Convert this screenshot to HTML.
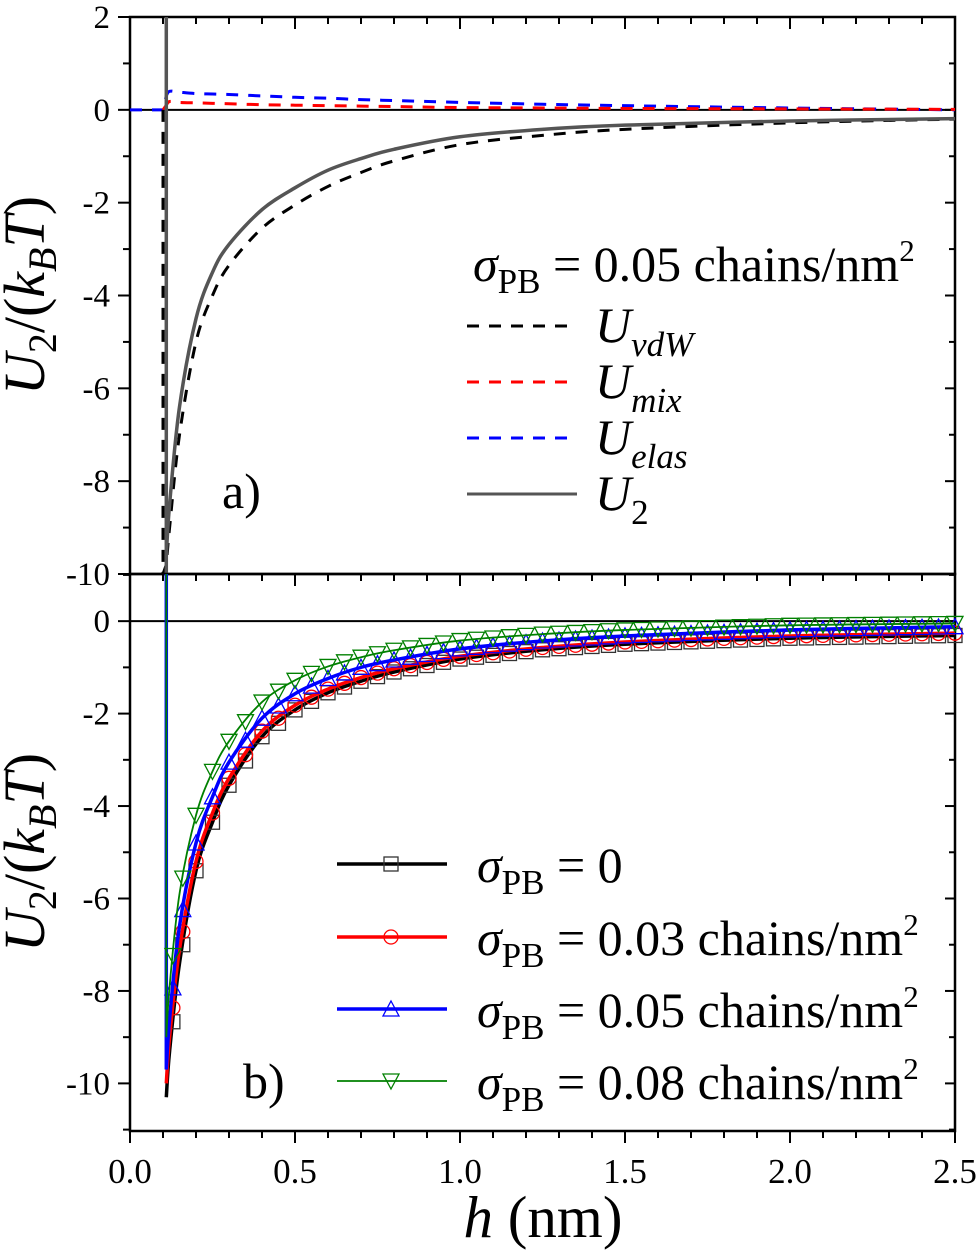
<!DOCTYPE html>
<html><head><meta charset="utf-8"><style>
html,body{margin:0;padding:0;background:#fff}
svg{display:block}
svg text, svg tspan{font-family:"Liberation Serif","Times New Roman",serif}
</style></head><body>
<svg id="chart" width="980" height="1254" viewBox="0 0 980 1254" xmlns="http://www.w3.org/2000/svg" font-family="Liberation Serif, serif">
<g id="g"></g>
</svg>
<script>
// Panel a data
const hTop = [0.11,0.12,0.15,0.2,0.25,0.3,0.4,0.5,0.6,0.7,0.8,1.0,1.25,1.5,2.0,2.5];
const uVdw = [-9.8,-9.0,-7.0,-5.0,-4.0,-3.35,-2.55,-2.05,-1.65,-1.35,-1.1,-0.75,-0.55,-0.42,-0.28,-0.2];
const uMix = [0.1,0.18,0.16,0.15,0.14,0.13,0.11,0.1,0.09,0.08,0.07,0.05,0.04,0.03,0.02,0.01];
const uElas = [0.3,0.4,0.38,0.35,0.34,0.33,0.3,0.27,0.25,0.22,0.2,0.16,0.12,0.09,0.04,0.0];
const uTotal = [-9.6,-8.5,-6.4,-4.5,-3.5,-2.9,-2.15,-1.68,-1.3,-1.05,-0.85,-0.58,-0.42,-0.33,-0.24,-0.19];
// Panel b data
const hBot = [0.11,0.12,0.15,0.2,0.25,0.3,0.4,0.5,0.6,0.7,0.8,1.0,1.25,1.5,2.0,2.5];
const sig0 = [-10.3,-9.3,-7.4,-5.4,-4.35,-3.55,-2.5,-1.92,-1.55,-1.3,-1.1,-0.82,-0.62,-0.5,-0.37,-0.31];
const sig3 = [-10.0,-9.0,-7.1,-5.2,-4.15,-3.4,-2.38,-1.82,-1.47,-1.22,-1.03,-0.76,-0.57,-0.45,-0.32,-0.26];
const sig5 = [-9.7,-8.6,-6.6,-4.8,-3.8,-3.05,-2.1,-1.57,-1.24,-1.0,-0.84,-0.6,-0.43,-0.32,-0.19,-0.12];
const sig8 = [-9.0,-7.9,-5.9,-4.2,-3.25,-2.6,-1.75,-1.28,-0.98,-0.78,-0.63,-0.42,-0.28,-0.19,-0.09,-0.05];
const xTicks = [0.0,0.5,1.0,1.5,2.0,2.5];
const xTickLabels = ["0.0","0.5","1.0","1.5","2.0","2.5"];
const yTicksTop = [2,0,-2,-4,-6,-8,-10];
const yTicksBot = [0,-2,-4,-6,-8,-10];

const NS="http://www.w3.org/2000/svg";
const G=document.getElementById('g');
const FF='Liberation Serif, serif';
function el(t,a,p){const e=document.createElementNS(NS,t);for(const k in a)e.setAttribute(k,a[k]);if(t==='text')e.setAttribute('font-family',FF);(p||G).appendChild(e);return e;}
const X0=130,X1=955;
const sx=h=>X0+(h/2.5)*(X1-X0);
const TOP={y0:17,y1:574,ymax:2,ymin:-10};
const BOT={y0:574,y1:1131,ymax:1.02,ymin:-11.03};
const sy=(P,v)=>P.y0+(P.ymax-v)/(P.ymax-P.ymin)*(P.y1-P.y0);

function curvePath(P,hs,vs){
  const pts=hs.map((h,i)=>[sx(h),sy(P,vs[i])]);
  let d=`M${pts[0][0]},${pts[0][1]}`;
  for(let i=0;i<pts.length-1;i++){
    const p0=pts[i-1]||pts[i],p1=pts[i],p2=pts[i+1],p3=pts[i+2]||p2;
    const c1=[p1[0]+(p2[0]-p0[0])/6,p1[1]+(p2[1]-p0[1])/6];
    const c2=[p2[0]-(p3[0]-p1[0])/6,p2[1]-(p3[1]-p1[1])/6];
    d+=` C${c1[0]},${c1[1]} ${c2[0]},${c2[1]} ${p2[0]},${p2[1]}`;
  }
  return d;
}
function interp(hs,vs,h){for(let i=0;i<hs.length-1;i++){if(h<=hs[i+1]){const t=(h-hs[i])/(hs[i+1]-hs[i]);return vs[i]+t*(vs[i+1]-vs[i]);}}return vs[vs.length-1];}

function axes(P,yt,name,xLabels){
  const z=el('line',{x1:X0,x2:X1,y1:sy(P,0),y2:sy(P,0),stroke:'#000','stroke-width':2});
  
  
  for(let v=Math.ceil(P.ymin);v<=Math.floor(P.ymax);v++){
    const y=sy(P,v),maj=(v%2===0);
    el('line',{x1:X0-(maj?12:7),x2:X0,y1:y,y2:y,stroke:'#000','stroke-width':2});
    el('line',{x1:X1-(maj?10:6),x2:X1,y1:y,y2:y,stroke:'#000','stroke-width':2});
  }
  yt.forEach(v=>{
    const t=el('text',{x:110,y:sy(P,v)+11,'text-anchor':'end','font-size':33});
    t.textContent=v;
    
    
  });
  for(let k=0;k<=25;k++){
    const h=k/10,x=sx(h),maj=(k%5===0);
    el('line',{x1:x,x2:x,y1:P.y0,y2:P.y0+(maj?12:7),stroke:'#000','stroke-width':2});
    if(xLabels) el('line',{x1:x,x2:x,y1:P.y1,y2:P.y1+(maj?12:7),stroke:'#000','stroke-width':2});
  }
  if(xLabels){
    xTicks.forEach((h,i)=>{
      const t=el('text',{x:sx(h),y:1183,'text-anchor':'middle','font-size':35});
      t.textContent=xTickLabels[i];
      
      
    });
  }
  const r=el('rect',{x:X0,y:P.y0,width:X1-X0,height:P.y1-P.y0,fill:'none',stroke:'#000','stroke-width':2.5});
  
  
  const cy=(P.y0+P.y1)/2;
  const t=el('text',{x:0,y:0,'font-size':58,'font-style':'italic','text-anchor':'middle',transform:`translate(44,${cy}) rotate(-90)`});
  t.innerHTML='U<tspan font-style="normal" font-size="40" dy="12">2</tspan><tspan font-style="normal" dy="-12">/(</tspan>k<tspan font-size="40" dy="12">B</tspan><tspan dy="-12">T</tspan><tspan font-style="normal">)</tspan>';
  
  
}

// ---------- Panel a ----------
axes(TOP,yTicksTop,'panel-a',false);
let p;
p=el('path',{d:`M${sx(0)},${sy(TOP,0)} L${sx(0.1)},${sy(TOP,0)} L${sx(0.11)},${sy(TOP,uElas[0])} `+curvePath(TOP,hTop,uElas).replace('M','L'),fill:'none',stroke:'#0000ff','stroke-width':3,'stroke-dasharray':'12,10'});


p=el('path',{d:`M${sx(0.1)},${sy(TOP,0)} L${sx(0.11)},${sy(TOP,uMix[0])} `+curvePath(TOP,hTop,uMix).replace('M','L'),fill:'none',stroke:'#ff0000','stroke-width':3,'stroke-dasharray':'12,10'});


p=el('path',{d:`M${sx(0.1)},${sy(TOP,0)} L${sx(0.1)},${sy(TOP,-10)} L${sx(0.11)},${sy(TOP,uVdw[0])} `+curvePath(TOP,hTop,uVdw).replace('M','L'),fill:'none',stroke:'#000','stroke-width':3,'stroke-dasharray':'12,10'});


p=el('path',{d:`M${sx(0.11)},${sy(TOP,2)} L${sx(0.11)},${sy(TOP,-10)} L${sx(0.11)},${sy(TOP,uTotal[0])} `+curvePath(TOP,hTop,uTotal).replace('M','L'),fill:'none',stroke:'#555','stroke-width':3.5});



// legend a
const la=el('g',{});


let t=el('text',{x:473,y:281,'font-size':50},la);
t.innerHTML='<tspan font-style="italic">σ</tspan><tspan font-size="35" dy="12">PB</tspan><tspan dy="-12"> = 0.05 chains/nm</tspan><tspan font-size="31" dy="-20">2</tspan>';
const legA=[['#000','12,10','vdW',326],['#ff0000','12,10','mix',382],['#0000ff','12,10','elas',438],['#555','','2',494]];
legA.forEach((e,i)=>{
  const g=el('g',{},la);
  
  
  el('line',{x1:467,x2:577,y1:e[3],y2:e[3],stroke:e[0],'stroke-width':3,'stroke-dasharray':e[1]},g);
  const tx=el('text',{x:595,y:e[3]+16,'font-size':50,'font-style':'italic'},g);
  tx.innerHTML=`U<tspan font-size="35" dy="14" ${i===3?'font-style="normal"':''}>${e[2]}</tspan>`;
});
t=el('text',{x:222,y:508,'font-size':50});t.textContent='a)';



// ---------- Panel b ----------
axes(BOT,yTicksBot,'panel-b',true);
const series=[[sig0,'#000',3.5,'sq','#333'],[sig3,'#ff0000',3.5,'ci','#ff0000'],[sig5,'#0000ff',3.5,'tu','#0000ff'],[sig8,'#008000',1.8,'td','#008000']];
const mh=[0.13,0.16,0.2];for(let h=0.25;h<=2.501;h+=0.05)mh.push(+h.toFixed(2));
function marker(type,x,y,c,par){
  const s=7;
  if(type==='sq') return el('rect',{x:x-s,y:y-s,width:2*s,height:2*s,fill:'none',stroke:c,'stroke-width':1.3},par);
  if(type==='ci') return el('circle',{cx:x,cy:y,r:s,fill:'none',stroke:c,'stroke-width':1.3},par);
  if(type==='tu') return el('path',{d:`M${x},${y-s-1} L${x+s+1},${y+s} L${x-s-1},${y+s}Z`,fill:'none',stroke:c,'stroke-width':1.3},par);
  return el('path',{d:`M${x},${y+s+1} L${x+s+1},${y-s} L${x-s-1},${y-s}Z`,fill:'none',stroke:c,'stroke-width':1.3},par);
}
const names=['sigma-0','sigma-0-03','sigma-0-05','sigma-0-08'];
series.forEach((s,i)=>{
  const g=el('g',{});
  
  
  let d=curvePath(BOT,hBot,s[0]);
  if(i>=2) d=`M${sx(0.11)},${sy(BOT,1.02)} L${sx(0.11)},${sy(BOT,s[0][0])} `+d.replace('M','L');
  el('path',{d,fill:'none',stroke:s[1],'stroke-width':s[2]},g);
  mh.forEach(h=>marker(s[3],sx(h),sy(BOT,interp(hBot,s[0],h)),s[4],g));
});
// legend b
const lb=el('g',{});


const legB=['= 0','= 0.03 chains/nm','= 0.05 chains/nm','= 0.08 chains/nm'];
const rowY=[864,937,1009,1081];
series.forEach((s,i)=>{
  const g=el('g',{},lb);
  
  
  el('line',{x1:337,x2:447,y1:rowY[i],y2:rowY[i],stroke:s[1],'stroke-width':s[2]},g);
  marker(s[3],391,rowY[i],s[4],g);
  const tx=el('text',{x:477,y:rowY[i]+18,'font-size':50},g);
  tx.innerHTML=`<tspan font-style="italic">σ</tspan><tspan font-size="35" dy="12">PB</tspan><tspan dy="-12"> ${legB[i]}</tspan>`+(i>0?'<tspan font-size="31" dy="-20">2</tspan>':'');
});
t=el('text',{x:243,y:1098,'font-size':50});t.textContent='b)';


t=el('text',{x:543,y:1237,'font-size':59,'text-anchor':'middle'});
t.innerHTML='<tspan font-style="italic">h</tspan> (nm)';


</script>
</body></html>
